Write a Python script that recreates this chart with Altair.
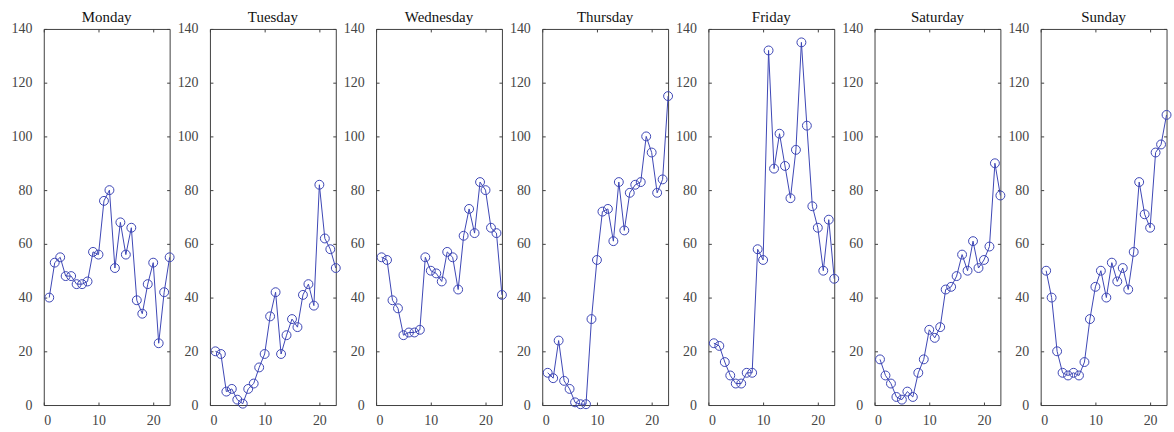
import altair as alt
import pandas as pd

days = ["Monday", "Tuesday", "Wednesday", "Thursday", "Friday", "Saturday", "Sunday"]
hours = list(range(1, 24))

monday = [40, 53, 55, 48, 48, 45, 45, 46, 57, 56, 76, 80, 51, 68, 56, 66, 39, 34, 45, 53, 23, 42, 55]
tuesday = [20, 19, 5, 6, 2, 0.5, 6, 8, 14, 19, 33, 42, 19, 26, 32, 29, 41, 45, 37, 82, 62, 58, 51]
wednesday = [55, 54, 39, 36, 26, 27, 27, 28, 55, 50, 49, 46, 57, 55, 43, 63, 73, 64, 83, 80, 66, 64, 41]
thursday = [12, 10, 24, 9, 6, 1, 0.3, 0.3, 32, 54, 72, 73, 61, 83, 65, 79, 82, 83, 100, 94, 79, 84, 115]
friday = [23, 22, 16, 11, 8, 8, 12, 12, 58, 54, 132, 88, 101, 89, 77, 95, 135, 104, 74, 66, 50, 69, 47]
saturday = [17, 11, 8, 3, 2, 5, 3, 12, 17, 28, 25, 29, 43, 44, 48, 56, 50, 61, 51, 54, 59, 90, 78]
sunday = [50, 40, 20, 12, 11, 12, 11, 16, 32, 44, 50, 40, 53, 46, 51, 43, 57, 83, 71, 66, 94, 97, 108]

series = [monday, tuesday, wednesday, thursday, friday, saturday, sunday]
x_ticks = [0, 10, 20]
y_ticks = [0, 20, 40, 60, 80, 100, 120, 140]

rows = []
for d, vals in zip(days, series):
    for h, v in zip(hours, vals):
        rows.append({"day": d, "hour": h, "value": v})
df = pd.DataFrame(rows)

BLUE = "#3c46b4"
FRAME = "#404040"
LABEL = "#444444"
FONT = "Liberation Serif"

xs = alt.Scale(domain=[0, 23], nice=False, zero=False)
ys = alt.Scale(domain=[0, 140], nice=False)


def panel(day):
    base = alt.Chart(df).transform_filter(alt.datum.day == day)
    line = base.mark_line(color=BLUE, strokeWidth=1).encode(
        x=alt.X("hour:Q", scale=xs, axis=alt.Axis(
            orient="bottom", values=x_ticks, title=None, grid=False, domain=False,
            offset=-3, tickSize=3, tickColor=FRAME, labelPadding=9,
            labelFont=FONT, labelFontSize=14, labelColor=LABEL)),
        y=alt.Y("value:Q", scale=ys, axis=alt.Axis(
            orient="left", values=y_ticks, title=None, grid=False, domain=False,
            offset=-3, tickSize=3, tickColor=FRAME, labelPadding=12,
            labelFont=FONT, labelFontSize=14, labelColor=LABEL)),
    )
    pts = base.mark_point(shape="circle", filled=False, color=BLUE, size=80, strokeWidth=1, opacity=1).encode(
        x=alt.X("hour:Q", scale=xs, axis=alt.Axis(
            orient="top", values=x_ticks, title=None, grid=False, domain=False,
            labels=False, offset=-3, tickSize=3, tickColor=FRAME,
            minExtent=0, maxExtent=0)),
        y=alt.Y("value:Q", scale=ys, axis=alt.Axis(
            orient="right", values=y_ticks, title=None, grid=False, domain=False,
            labels=False, offset=-3, tickSize=3, tickColor=FRAME,
            minExtent=0, maxExtent=0)),
    )
    return alt.layer(line, pts).resolve_axis(x="independent", y="independent").properties(
        width=126.5, height=378,
        title=alt.Title(day, fontSize=15, font=FONT, fontWeight="normal", color="#111111", offset=-3),
    )


chart = alt.hconcat(*[panel(d) for d in days], spacing=40.0, bounds="flush").properties(
    padding={"left": 10, "top": 8, "right": 0, "bottom": 0}
).configure_view(stroke=FRAME, strokeWidth=1)

chart.save("out.html", embed_options={"renderer": "svg", "actions": False})
